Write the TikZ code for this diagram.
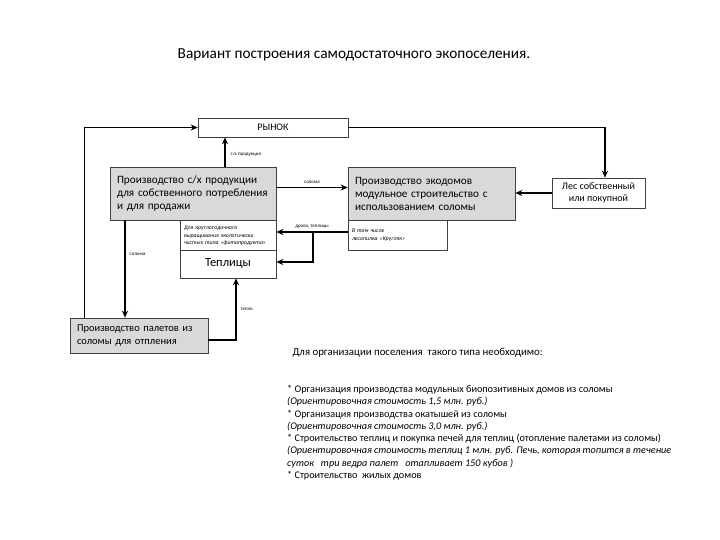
\documentclass[tikz,border=0pt]{standalone}
\usepackage{fontspec}
\setmainfont{Carlito}
\usetikzlibrary{arrows.meta}
\tikzset{
  blk/.style={draw=black!75, line width=0.6pt, fill=gray!30, inner xsep=7pt, inner ysep=0pt, align=left, font=\fontsize{11.2}{13}\selectfont},
  wbox/.style={draw=black!75, line width=0.6pt, fill=white, inner xsep=4pt, inner ysep=0pt},
  note/.style={wbox, align=left, font=\fontsize{5.8}{7.5}\selectfont\itshape},
  lbl/.style={font=\fontsize{5}{6}\selectfont, inner sep=1pt},
  flow/.style={line width=1.4pt, -{Stealth[length=7pt,width=6pt]}},
}
\begin{document}
\begin{tikzpicture}[x=1pt,y=-1pt]
\useasboundingbox[fill=white] (0,0) rectangle (720,540);

\node (title) at (354,55) [font=\fontsize{15.3}{17}\selectfont] {Вариант построения самодостаточного экопоселения.};

\node (rynok) at (273,127.5)[wbox, minimum width=150pt, minimum height=19pt, font=\fontsize{10}{11}\selectfont] {РЫНОК};
\node (sh) at (193,193.5)[blk, text width=152pt, minimum height=53pt] {Производство с/х продукции\\для собственного потребления\\и для продажи};
\node (sub1) at (228,236)[note, text width=88pt, minimum height=32pt] {Для круглогодичного\\выращивания экологически\\чистых типа «фитопродукта»};
\node (teplicy) at (228,264)[wbox, minimum width=96pt, minimum height=28pt, font=\fontsize{12.5}{14}\selectfont] {Теплицы};
\node (eco) at (431.5,193.5)[blk, text width=153pt, minimum height=53pt] {Производство экодомов\\модульное строительство с\\использованием соломы};
\node (sub2) at (397.5,235)[note, text width=91pt, minimum height=30pt] {В том числе\\лесопилка «Кругляк»};
\node (les) at (598.5,193)[wbox, minimum width=93pt, minimum height=30pt, align=center, font=\fontsize{10}{11.5}\selectfont] {Лес собственный\\или покупной};
\node (pellet) at (139,335.5)[blk, text width=124pt, minimum height=35pt, font=\fontsize{10.5}{12.5}\selectfont] {Производство палетов из\\соломы для отпления};

% connectors
\draw[flow] ([xshift=15pt]pellet.north west) |- (rynok.west);
\draw[flow] (rynok.east) -| ([xshift=6.5pt]les.north);
\draw[flow] ([xshift=32pt]sh.north) -- ([xshift=32pt]sh.north |- rynok.south) node[lbl, midway, right=4pt, yshift=-2pt] {с/х продукция};
\draw[flow] ([yshift=6pt]sh.east) -- ([yshift=6pt]eco.west) node[lbl, midway, above=2pt] {солома};
\draw[flow] (les.west) -- (les.west -| eco.east);
\draw[flow] ([yshift=3pt]sub2.west) -- ([yshift=3pt]sub2.west -| sub1.east) node[lbl, midway, above=2pt] {дрова, теплицы};
\coordinate (br) at ([yshift=3pt]sub2.west -| 313,0);
\draw[flow] (br) |- ([yshift=2pt]teplicy.east);
\draw[flow] ([xshift=-68pt]sh.south) -- ([xshift=-68pt]sh.south |- pellet.north) node[lbl, pos=0.35, right=3pt] {солома};
\draw[flow] ([yshift=-4.5pt]pellet.east) -| ([xshift=8pt]teplicy.south) node[lbl, pos=0.75, right=3pt] {тепло};

% text below
\node (intro) at (289,353)[anchor=west, font=\fontsize{10.8}{12}\selectfont] {Для организации поселения\ \ такого типа необходимо:};
\node (notes) at (287,385)[anchor=north west, align=left, inner sep=0pt, font=\fontsize{10.2}{12.3}\selectfont] {%
* Организация производства модульных биопозитивных домов из соломы\\
\textit{(Ориентировочная стоимость 1,5 млн. руб.)}\\
* Организация производства окатышей из соломы\\
\textit{(Ориентировочная стоимость 3,0 млн. руб.)}\\
* Строительство теплиц и покупка печей для теплиц (отопление палетами из соломы)\\
\textit{(Ориентировочная стоимость теплиц 1 млн. руб. Печь, которая топится в течение}\\
\textit{суток\ \ \ три ведра палет\ \ \ отапливает 150 кубов )}\\
* Строительство\ \ жилых домов};
\end{tikzpicture}
\end{document}
